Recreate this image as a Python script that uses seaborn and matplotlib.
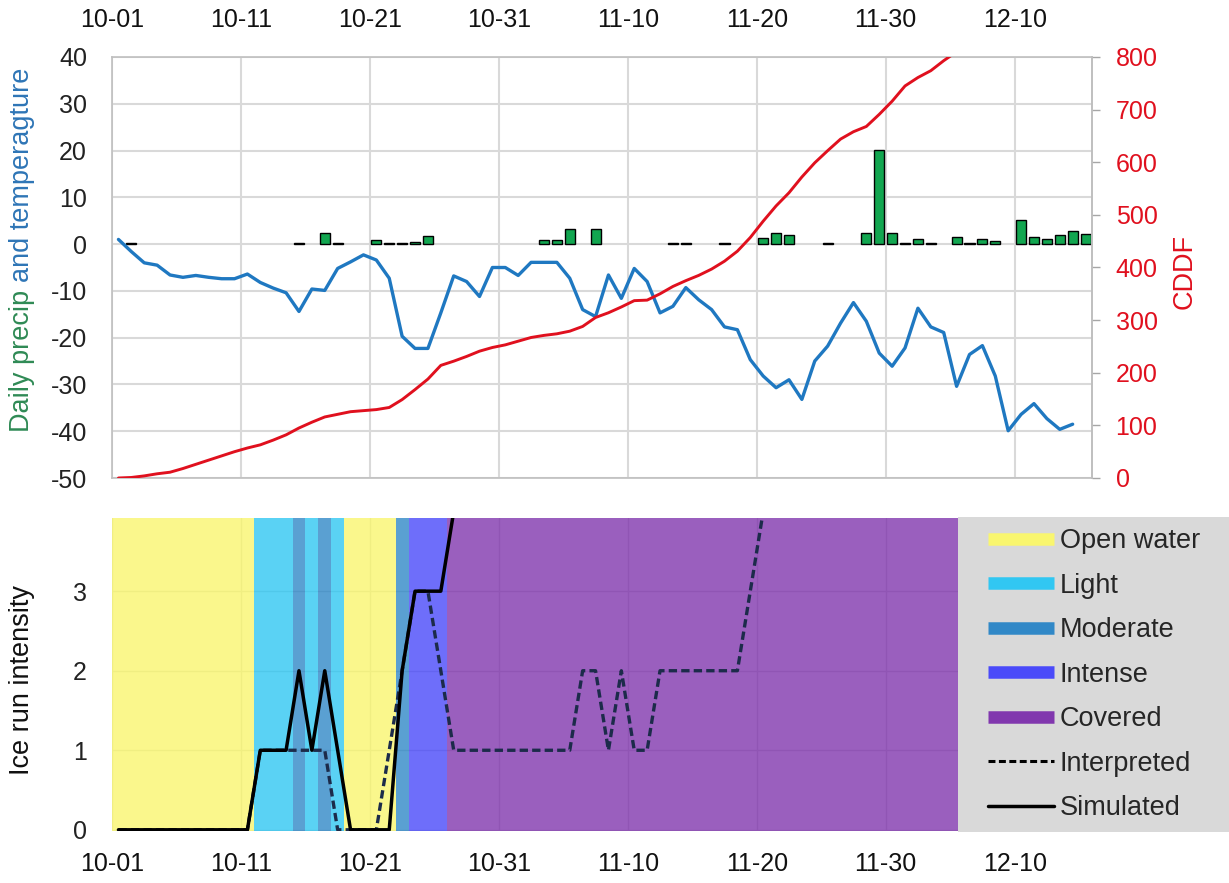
import matplotlib
matplotlib.use("Agg")
import matplotlib.pyplot as plt
import seaborn as sns
from matplotlib.lines import Line2D
from matplotlib.patches import Rectangle

# ---- data (day index 0 = 10-01) ----
TEMP = [1.0, -1.6, -4.0, -4.5, -6.6, -7.1, -6.7, -7.1, -7.4, -7.4,
        -6.4, -8.2, -9.4, -10.4, -14.4, -9.6, -9.9, -5.2, -3.8, -2.3,
        -3.4, -7.3, -19.7, -22.3, -22.3, -14.7, -6.8, -8.0, -11.2, -5.0,
        -5.0, -6.7, -3.9, -3.9, -3.9, -7.3, -14.0, -15.5, -6.6, -11.6,
        -5.2, -8.0, -14.7, -13.3, -9.3, -11.9, -14.0, -17.7, -18.3, -24.7,
        -28.2, -30.7, -29.0, -33.2, -25.0, -21.8, -16.9, -12.5, -16.5, -23.3,
        -26.1, -22.2, -13.7, -17.7, -18.9, -30.4, -23.6, -21.7, -28.2, -39.9,
        -36.4, -34.1, -37.3, -39.6, -38.5]

PRECIP_DAYS = [1, 14, 16, 17, 20, 21, 22, 23, 24, 33, 34, 35, 37, 43, 44, 47,
               50, 51, 52, 55, 58, 59, 60, 61, 62, 63, 65, 66, 67, 68,
               70, 71, 72, 73, 74, 75]
PRECIP = [0.3, 0.3, 2.4, 0.3, 0.8, 0.3, 0.3, 0.4, 1.7, 0.8, 0.8, 3.2, 3.3, 0.2, 0.2, 0.2,
          1.2, 2.4, 2.0, 0.2, 2.4, 20.1, 2.4, 0.3, 1.1, 0.3, 1.6, 0.3, 1.1, 0.7,
          5.1, 1.6, 1.1, 1.9, 2.8, 2.1]

CDDF = [0, 1, 4, 8, 11, 18, 26, 34, 42, 50,
        57, 63, 72, 82, 95, 106, 116, 121, 126, 128,
        130, 134, 149, 168, 188, 214, 222, 231, 241, 248,
        253, 260, 267, 271, 274, 279, 288, 305, 314, 325,
        337, 338, 350, 364, 375, 385, 397, 412, 431, 457,
        488, 517, 542, 572, 599, 622, 644, 658, 668, 691,
        716, 745, 761, 774, 793, 810]

SIMULATED = [0, 0, 0, 0, 0, 0, 0, 0, 0, 0, 0,
             1, 1, 1, 2, 1, 2, 1, 0, 0, 0, 0,
             2, 3, 3, 3, 4]
INTERPRETED = [0, 0, 0, 0, 0, 0, 0, 0, 0, 0, 0,
               1, 1, 1, 1, 1, 1, 0, 0, 0, 0,
               1, 2, 3, 3, 2,
               1, 1, 1, 1, 1, 1, 1, 1, 1, 1,
               2, 2, 1, 2, 1, 1,
               2, 2, 2, 2, 2, 2, 2, 3, 4]

STATE_NAMES = ["Open water", "Light", "Moderate", "Light", "Moderate", "Light",
               "Open water", "Moderate", "Intense", "Covered"]
STATE_DAYS = [11, 3, 1, 1, 1, 1, 4, 1, 3, 50]

TICK_DAYS = [0, 10, 20, 30, 40, 50, 60, 70]
TICK_LABELS = ["10-01", "10-11", "10-21", "10-31", "11-10", "11-20", "11-30", "12-10"]

# ---- styling ----
STATE_COLORS = {
    "Open water": "#f9f66f",
    "Light": "#31c7f2",
    "Moderate": "#3188c7",
    "Intense": "#4a4af9",
    "Covered": "#8137ae",
}
GREEN = "#12a650"
BLUE = "#1f78c1"
RED = "#e0101e"
GRID = "#d9d9d9"
DASH = "#1c2b4a"

sns.set_style("white")
plt.rcParams["font.family"] = ["Liberation Sans", "DejaVu Sans"]
plt.rcParams["lines.scale_dashes"] = False
plt.rcParams["axes.unicode_minus"] = False

W, H = 1229, 883
fig = plt.figure(figsize=(W / 100, H / 100), dpi=100)


def box(left, top, right, bottom):
    return [left / W, 1 - bottom / H, (right - left) / W, (bottom - top) / H]


ax_top = fig.add_axes(box(112, 57, 1092, 478))
ax_bot = fig.add_axes(box(112, 518, 1092, 831))

# ---- upper panel: precipitation bars, temperature, CDDF ----
sns.barplot(x=[d + 0.5 for d in PRECIP_DAYS], y=PRECIP, native_scale=True,
            width=0.78, color=GREEN, saturation=1, edgecolor="black",
            linewidth=1, errorbar=None, ax=ax_top, zorder=2)
sns.lineplot(x=[d + 0.5 for d in range(len(TEMP))], y=TEMP, color=BLUE,
             lw=2.4, ax=ax_top, zorder=3)

ax_top.set_xlim(0, 76)
ax_top.set_ylim(-50, 40)
ax_top.set_yticks(range(-50, 41, 10))
ax_top.set_xticks(TICK_DAYS, TICK_LABELS)
ax_top.grid(True, color=GRID, lw=1.5)
ax_top.set_axisbelow(True)
ax_top.xaxis.tick_top()
ax_top.tick_params(axis="x", length=0, pad=18, labelsize=18, labelcolor="#111111")
ax_top.tick_params(axis="y", length=0, pad=18, labelsize=18, labelcolor="#222222")
ax_top.set_xlabel("")
ax_top.set_ylabel("")
for s in ax_top.spines.values():
    s.set_color("#bfbfbf")
    s.set_linewidth(1.2)

ax_r = ax_top.twinx()
sns.lineplot(x=[d + 0.5 for d in range(len(CDDF))], y=CDDF, color=RED,
             lw=2.1, ax=ax_r)
ax_r.set_ylim(0, 800)
ax_r.set_yticks(range(0, 801, 100))
ax_r.set_xlim(0, 76)
ax_r.tick_params(axis="y", length=6, width=1, color="#a6a6a6", pad=11,
                 labelsize=18, labelcolor=RED)
ax_r.set_ylabel("")
for s in ax_r.spines.values():
    s.set_visible(False)
ax_r.spines["right"].set_visible(True)
ax_r.spines["right"].set_color("#bfbfbf")
ax_r.spines["right"].set_linewidth(1.2)

# ---- lower panel: ice regime bands and intensity lines ----
start = 0
for name, n in zip(STATE_NAMES, STATE_DAYS):
    ax_bot.axvspan(start, start + n, color=STATE_COLORS[name], alpha=0.8,
                   lw=0, zorder=0.8)
    start += n

sns.lineplot(x=[d + 0.5 for d in range(len(INTERPRETED))], y=INTERPRETED,
             color=DASH, lw=2.4, ax=ax_bot, zorder=3)
ax_bot.lines[-1].set_dashes((6, 3))
sns.lineplot(x=[d + 0.5 for d in range(len(SIMULATED))], y=SIMULATED,
             color="black", lw=2.5, ax=ax_bot, zorder=4)

ax_bot.set_xlim(0, 76)
ax_bot.set_ylim(-0.015, 3.92)
ax_bot.set_yticks([0, 1, 2, 3])
ax_bot.set_xticks(TICK_DAYS, TICK_LABELS)
ax_bot.grid(True, color="#cfcfcf", lw=1)
ax_bot.set_axisbelow(True)
ax_bot.tick_params(axis="x", length=0, pad=15, labelsize=18, labelcolor="#111111")
ax_bot.tick_params(axis="y", length=0, pad=18, labelsize=18, labelcolor="#222222")
ax_bot.set_xlabel("")
ax_bot.set_ylabel("")
for s in ax_bot.spines.values():
    s.set_visible(False)

# ---- legend panel ----
fig.add_artist(Rectangle((958 / W, 1 - 832 / H), (W - 958) / W, (832 - 517) / H,
                         transform=fig.transFigure, facecolor="#d9d9d9",
                         edgecolor="none", zorder=3))
handles = [Line2D([], [], color=STATE_COLORS[k], lw=9, solid_capstyle="butt")
           for k in ["Open water", "Light", "Moderate", "Intense", "Covered"]]
handles.append(Line2D([], [], color="black", lw=2.2, dashes=(5, 2.5)))
handles.append(Line2D([], [], color="black", lw=2.5))
labels = ["Open water", "Light", "Moderate", "Intense", "Covered",
          "Interpreted", "Simulated"]
leg = fig.legend(handles, labels, loc="upper left",
                 bbox_to_anchor=(988 / W, 1 - 528 / H), frameon=False,
                 fontsize=19.5, labelspacing=0.685, handlelength=2.45,
                 handletextpad=0.2, borderpad=0, borderaxespad=0)
leg.set_zorder(4)

# ---- axis titles ----
fig.text(1185 / W, 1 - 271 / H, "CDDF", rotation=90, ha="center", va="center",
         fontsize=19.5, color=RED)
fig.text(22 / W, 1 - 680 / H, "Ice run intensity", rotation=90, ha="center",
         va="center", fontsize=19.5, color="#111111")

t1 = fig.text(22 / W, 1 - 432 / H, "Daily precip", rotation=90, ha="center",
              va="bottom", fontsize=19.5, color="#2f8a55")
fig.canvas.draw()
bb = t1.get_window_extent()
gap = 0.28 * 19.5 * 100 / 72
t2 = fig.text(22 / W, (bb.y1 + gap) / H, "and temperagture", rotation=90,
              ha="center", va="bottom", fontsize=19.5, color="#2e75b6")

fig.savefig("out.png", dpi=100, facecolor="white")
